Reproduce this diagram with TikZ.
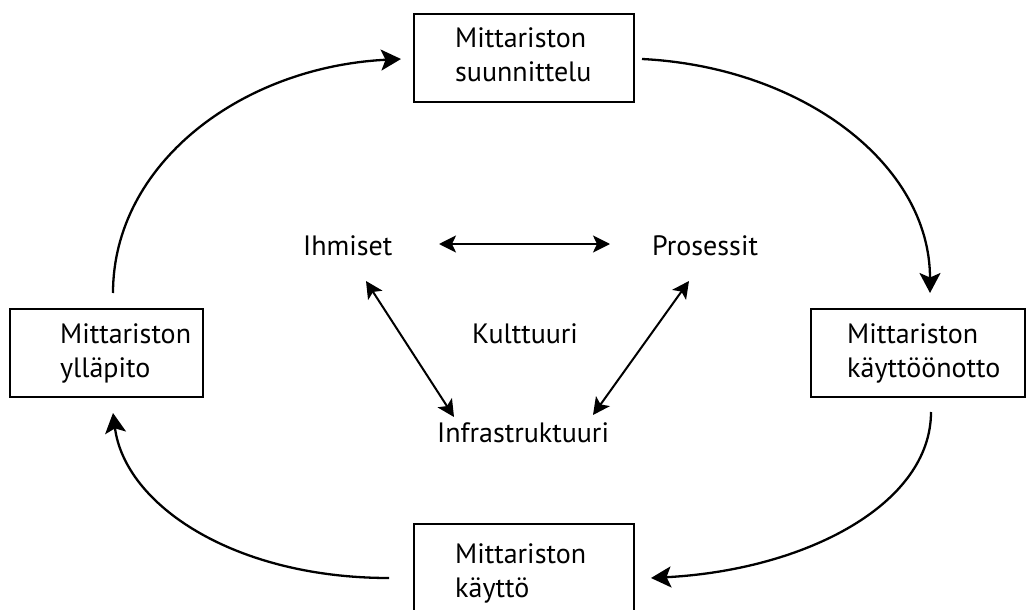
\documentclass[tikz,border=0pt]{standalone}
\usepackage{fontspec}
\setmainfont{PT Sans}
\usetikzlibrary{arrows.meta}
% two stacked lines whose baseline is that of the first line
\newcommand\twolines[2]{\vtop{\hbox{#1}\hbox{#2}}}
\begin{document}
\begin{tikzpicture}[x=1pt,y=-1pt,
  stage/.style={draw, line width=2pt, inner sep=0pt, minimum height=88pt},
  lbl/.style={inner sep=0pt, anchor=base west, font=\fontsize{28}{34}\selectfont},
  cycle/.style={line width=2.3pt, -{Stealth[length=20pt,width=21pt,inset=4.5pt]}},
  link/.style={line width=2pt, {Stealth[length=17pt,width=17pt,inset=4pt]}-{Stealth[length=17pt,width=17pt,inset=4pt]}}]
\useasboundingbox (0,0) rectangle (1026,610);

% the four stages of the cycle
\node[stage, minimum width=220pt] (top) at (524,58) {};
\node[stage, minimum width=214pt] (rgt) at (918,353) {};
\node[stage, minimum width=193pt] (lft) at (106.5,353) {};
\node[stage, minimum width=220pt] (bot) at (524,568) {};

\node[lbl] (toptxt) at (455,48) {\twolines{Mittariston}{suunnittelu}};
\node[lbl] (rgttxt) at (847,343) {\twolines{Mittariston}{käyttöönotto}};
\node[lbl] (lfttxt) at (60,343) {\twolines{Mittariston}{ylläpito}};
\node[lbl] (bottxt) at (455,563) {\twolines{Mittariston}{käyttö}};

% centre triangle
\node[lbl] (ihm) at (303,255) {Ihmiset};
\node[lbl] (pro) at (652,255) {Prosessit};
\node[lbl] (kul) at (472,343) {Kulttuuri};
\node[lbl] (inf) at (437,442) {Infrastruktuuri};

\draw[link] ([shift={(136,-11)}]ihm.base west) -- ([shift={(-42,-11)}]pro.base west);
\draw[link] ([shift={(63,26)}]ihm.base west) -- ([shift={(17,-25)}]inf.base west);
\draw[link] ([shift={(37,26)}]pro.base west) -- ([shift={(156,-27)}]inf.base west);

% cycle arrows
\draw[cycle] ([shift={(6.5,-15)}]lft.north) .. controls +(0,-129) and +(-160,8) .. ([shift={(-12,1)}]top.west);
\draw[cycle] ([shift={(7,1)}]top.east) .. controls +(160,8) and +(0,-129) .. ([shift={(12,-15)}]rgt.north);
\draw[cycle] ([shift={(13,14)}]rgt.south) .. controls +(0,92) and +(155,-8) .. ([shift={(16,10)}]bot.east);
\draw[cycle] ([shift={(-24,10)}]bot.west) .. controls +(-155,0) and +(12,92) .. ([shift={(6.5,15)}]lft.south);
\end{tikzpicture}
\end{document}
